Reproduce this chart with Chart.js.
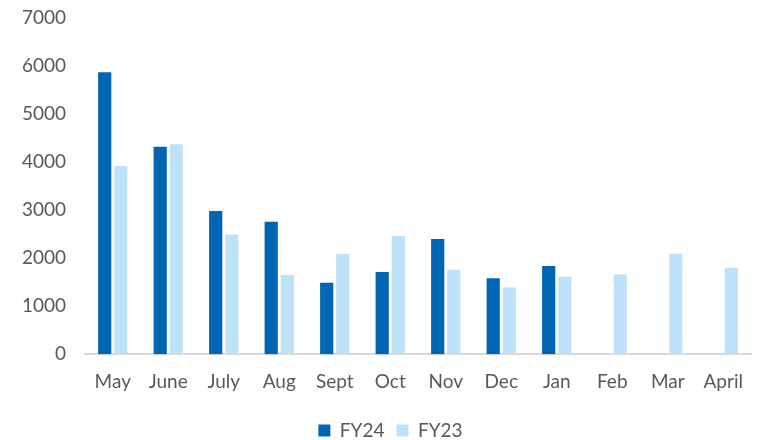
<!DOCTYPE html>
<html>
<head>
<meta charset="utf-8">
<script src="https://cdn.jsdelivr.net/npm/chart.js@4"></script>
<style>
  html, body { margin: 0; padding: 0; background: #fff; }
  #wrap { width: 760px; height: 440px; }
</style>
</head>
<body>
<div id="wrap"><canvas id="grafica" width="760" height="440"></canvas></div>
<script>
// Datos
const meses = ['May', 'June', 'July', 'Aug', 'Sept', 'Oct', 'Nov', 'Dec', 'Jan', 'Feb', 'Mar', 'April'];
const fy24 = [5870, 4320, 2980, 2760, 1490, 1710, 2400, 1580, 1835, null, null, null];
const fy23 = [3920, 4370, 2490, 1650, 2085, 2460, 1760, 1390, 1610, 1660, 2090, 1800];
const ticksY = [0, 1000, 2000, 3000, 4000, 5000, 6000, 7000];

const fuente = { family: 'Lato, "DejaVu Sans", sans-serif', size: 19 };

// Ajusta la altura y posición de la leyenda
const ajusteLeyenda = {
  id: 'ajusteLeyenda',
  afterInit(chart) {
    const orig = chart.legend.fit;
    chart.legend.fit = function() { orig.call(this); this.height -= 10; };
  },
  afterLayout(chart) {
    chart.legend.left += 15;
    chart.legend.right += 15;
  }
};

const ctx = document.getElementById('grafica').getContext('2d');

new Chart(ctx, {
  type: 'bar',
  data: {
    labels: meses,
    datasets: [
      { label: 'FY24', data: fy24, backgroundColor: '#0066B3', categoryPercentage: 0.58, barPercentage: 0.82 },
      { label: 'FY23', data: fy23, backgroundColor: '#BFE2FB', categoryPercentage: 0.58, barPercentage: 0.82 }
    ]
  },
  plugins: [ajusteLeyenda],
  options: {
    responsive: false,
    animation: false,
    layout: { padding: { top: 0, right: 9, left: 0, bottom: 0 } },
    plugins: {
      tooltip: { enabled: false },
      legend: {
        position: 'bottom',
        labels: {
          color: '#595959',
          font: fuente,
          boxWidth: 12,
          boxHeight: 12,
          padding: 12
        }
      }
    },
    scales: {
      x: {
        grid: { display: false, drawTicks: false },
        border: { color: '#D9D9D9', width: 2 },
        ticks: { color: '#595959', font: fuente, padding: 16, maxRotation: 0 }
      },
      y: {
        min: 0,
        max: 7000,
        afterFit: function(scale) { scale.width = 85; scale.paddingTop = 18; scale.paddingBottom = 0; },
        afterBuildTicks: function(scale) { scale.ticks = ticksY.map(v => ({ value: v })); },
        grid: { display: false, drawTicks: false },
        border: { display: false },
        ticks: { color: '#595959', font: fuente, padding: 19, callback: v => String(v) }
      }
    }
  }
});
</script>
</body>
</html>
